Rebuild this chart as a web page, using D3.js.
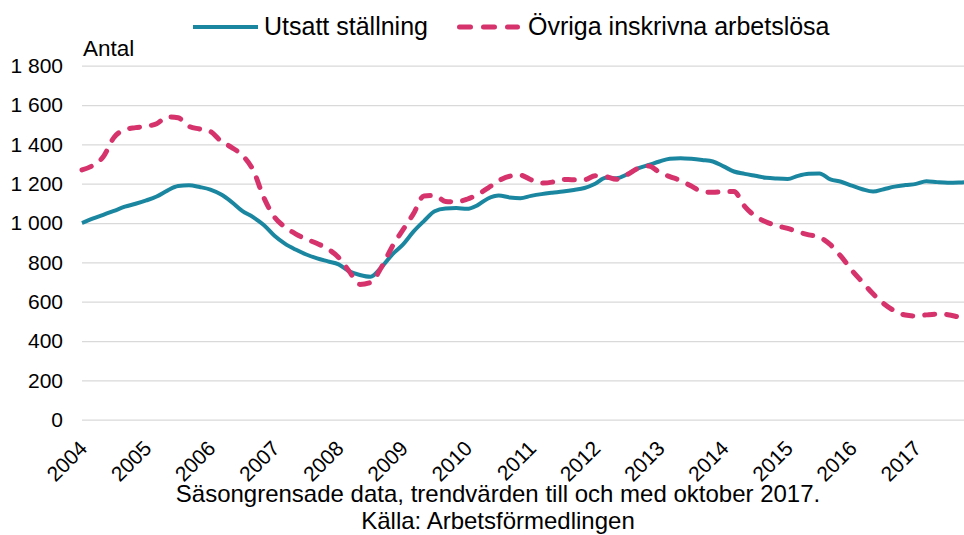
<!DOCTYPE html>
<html>
<head>
<meta charset="utf-8">
<script src="https://cdn.jsdelivr.net/npm/d3@7"></script>
<style>
  html, body { margin: 0; padding: 0; background: #fff; }
  svg { display: block; font-family: "Liberation Sans", Arial, sans-serif; }
</style>
</head>
<body>
<div id="chart"></div>
<script>
// månader (varannan månad + sista trendvärdet okt 2017)
const months = [
  "2004-01","2004-03","2004-05","2004-07","2004-09","2004-11",
  "2005-01","2005-03","2005-05","2005-07","2005-09","2005-11",
  "2006-01","2006-03","2006-05","2006-07","2006-09","2006-11",
  "2007-01","2007-03","2007-05","2007-07","2007-09","2007-11",
  "2008-01","2008-03","2008-05","2008-07","2008-09","2008-11",
  "2009-01","2009-03","2009-05","2009-07","2009-09","2009-11",
  "2010-01","2010-03","2010-05","2010-07","2010-09","2010-11",
  "2011-01","2011-03","2011-05","2011-07","2011-09","2011-11",
  "2012-01","2012-03","2012-05","2012-07","2012-09","2012-11",
  "2013-01","2013-03","2013-05","2013-07","2013-09","2013-11",
  "2014-01","2014-03","2014-05","2014-07","2014-09","2014-11",
  "2015-01","2015-03","2015-05","2015-07","2015-09","2015-11",
  "2016-01","2016-03","2016-05","2016-07","2016-09","2016-11",
  "2017-01","2017-03","2017-05","2017-07","2017-09","2017-10"
];

const utsatt = [
  1000, 1022, 1042, 1062, 1083, 1098,
  1115, 1135, 1165, 1188, 1192, 1183,
  1170, 1146, 1108, 1062, 1030, 990,
  935, 895, 865, 840, 820, 805,
  790, 755, 736, 727, 775, 840,
  890, 955, 1010, 1060, 1074, 1076,
  1072, 1090, 1125, 1140, 1130, 1126,
  1138, 1147, 1154, 1160, 1168, 1178,
  1200, 1230, 1228, 1248, 1278, 1295,
  1313, 1327, 1330, 1327, 1321, 1313,
  1288, 1262, 1250, 1240, 1230, 1226,
  1224, 1240, 1250, 1252, 1222, 1210,
  1190, 1172, 1160, 1172, 1185, 1193,
  1199, 1213, 1208, 1205, 1206, 1207
];

const ovriga = [
  1270, 1292, 1337, 1435, 1475, 1485,
  1492, 1505, 1540, 1535, 1492, 1478,
  1465, 1418, 1385, 1345, 1270, 1130,
  1030, 980, 945, 918, 896, 868,
  825, 755, 688, 698, 775, 880,
  965, 1045, 1138, 1140, 1110, 1108,
  1121, 1145, 1178, 1215, 1238, 1243,
  1220, 1203, 1208, 1222, 1220, 1220,
  1240, 1236, 1222, 1246, 1278, 1290,
  1258, 1236, 1216, 1188, 1160, 1156,
  1160, 1160, 1085, 1035, 1005, 986,
  973, 955, 940, 928, 890, 830,
  760, 700, 640, 590, 553, 532,
  527, 533, 537, 534, 522, 516
];

const yTicks = [0, 200, 400, 600, 800, 1000, 1200, 1400, 1600, 1800];
const yearTicks = ["2004","2005","2006","2007","2008","2009","2010",
                   "2011","2012","2013","2014","2015","2016","2017"];
const seriesNames = ["Utsatt ställning", "Övriga inskrivna arbetslösa"];
const yTitle = "Antal";
const footnotes = [
  "Säsongrensade data, trendvärden till och med oktober 2017.",
  "Källa: Arbetsförmedlingen"
];

const BLUE = "#1a86a0";
const PINK = "#d6336c";

const W = 964, H = 535;
const margin = { top: 65.7, right: 0, bottom: H - 419.7, left: 82 };
const width = W - margin.left - margin.right;
const height = H - margin.top - margin.bottom;

const parseMonth = d3.timeParse("%Y-%m");
const parseYear = d3.timeParse("%Y");

const svg = d3.select("#chart")
  .append("svg")
  .attr("width", W)
  .attr("height", H);

const g = svg.append("g")
  .attr("transform", `translate(${margin.left},${margin.top})`);

// scales
const x = d3.scaleTime()
  .domain([parseMonth(months[0]), parseMonth(months[months.length - 1])])
  .range([0, width]);

const y = d3.scaleLinear()
  .domain([0, 1800])
  .range([height, 0]);

const sv = d3.formatLocale({ decimal: ",", thousands: "\u00a0", grouping: [3], currency: ["", " kr"] });

// y axis + gridlines
const yAxis = g.append("g")
  .call(d3.axisLeft(y)
    .tickValues(yTicks)
    .tickSize(-width)
    .tickPadding(19)
    .tickFormat(sv.format(",d")));
yAxis.select(".domain").remove();
yAxis.selectAll("line")
  .attr("stroke", "#d9d9d9")
  .attr("stroke-width", 1.3);
yAxis.selectAll("text")
  .attr("fill", "#000")
  .style("font-size", "21px");

// x axis
const xAxis = g.append("g")
  .attr("transform", `translate(0,${height})`)
  .call(d3.axisBottom(x)
    .tickValues(yearTicks.map(parseYear))
    .tickSize(0)
    .tickFormat(d3.timeFormat("%Y")));
xAxis.select(".domain").remove();
xAxis.selectAll("text")
  .attr("x", 0)
  .attr("y", 0)
  .attr("dy", 0)
  .attr("fill", "#000")
  .attr("text-anchor", "end")
  .attr("transform", "translate(6,30) rotate(-45)")
  .style("font-size", "21px");

// lines
const rows = months.map((m, i) => ({ date: parseMonth(m), a: utsatt[i], b: ovriga[i] }));

const lineA = d3.line().x(d => x(d.date)).y(d => y(d.a)).curve(d3.curveMonotoneX);
const lineB = d3.line().x(d => x(d.date)).y(d => y(d.b)).curve(d3.curveMonotoneX);

g.append("path")
  .datum(rows)
  .attr("fill", "none")
  .attr("stroke", BLUE)
  .attr("stroke-width", 4)
  .attr("stroke-linejoin", "round")
  .attr("d", lineA);

g.append("path")
  .datum(rows)
  .attr("fill", "none")
  .attr("stroke", PINK)
  .attr("stroke-width", 5)
  .attr("stroke-linecap", "round")
  .attr("stroke-dasharray", "10,12")
  .attr("d", lineB);

// y title
svg.append("text")
  .attr("x", 83)
  .attr("y", 56)
  .style("font-size", "22.5px")
  .text(yTitle);

// legend
const legend = svg.append("g");
legend.append("line")
  .attr("x1", 193).attr("x2", 258)
  .attr("y1", 27).attr("y2", 27)
  .attr("stroke", BLUE)
  .attr("stroke-width", 4);
legend.append("text")
  .attr("x", 264).attr("y", 35)
  .style("font-size", "25px")
  .text(seriesNames[0]);
legend.append("line")
  .attr("x1", 459.5).attr("x2", 517.5)
  .attr("y1", 27).attr("y2", 27)
  .attr("stroke", PINK)
  .attr("stroke-width", 5)
  .attr("stroke-linecap", "round")
  .attr("stroke-dasharray", "11,13");
legend.append("text")
  .attr("x", 528).attr("y", 35)
  .style("font-size", "25px")
  .text(seriesNames[1]);

// footnotes
svg.selectAll(".foot")
  .data(footnotes)
  .enter()
  .append("text")
  .attr("class", "foot")
  .attr("x", 498)
  .attr("y", (d, i) => 502 + i * 26.5)
  .attr("text-anchor", "middle")
  .style("font-size", "24px")
  .text(d => d);
</script>
</body>
</html>
